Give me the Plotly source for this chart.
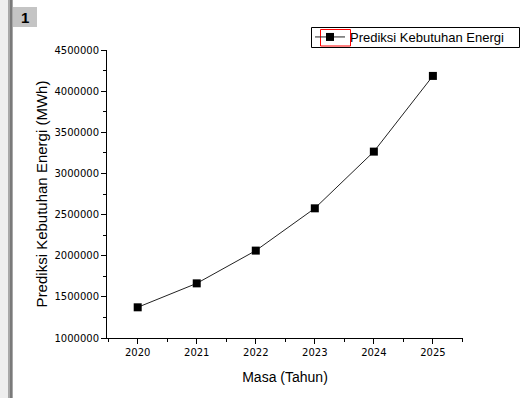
import plotly.graph_objects as go

# Projected annual energy demand
years = [2020, 2021, 2022, 2023, 2024, 2025]
demand_mwh = [1373000, 1664000, 2062000, 2576000, 3265000, 4185000]
series_name = "Prediksi Kebutuhan Energi"

W, H = 531, 398
ML, MR, MT, MB = 107, 68, 50, 60
PW, PH = W - ML - MR, H - MT - MB


def px_x(x):
    return (x - ML) / PW


def px_y(y):
    return (H - MB - y) / PH


fig = go.Figure()
fig.add_trace(go.Scatter(
    x=years, y=demand_mwh, name=series_name,
    mode="lines+markers",
    line=dict(color="#222222", width=1),
    marker=dict(symbol="square", size=8, color="#000000"),
))

tick_font = dict(family="DejaVu Sans", size=10, color="#000000")

fig.update_layout(
    width=W, height=H,
    margin=dict(l=ML, r=MR, t=MT, b=MB, autoexpand=False),
    paper_bgcolor="white", plot_bgcolor="white",
    showlegend=True,
    legend=dict(
        x=px_x(310), y=px_y(37), xanchor="left", yanchor="middle",
        bgcolor="rgba(0,0,0,0)", borderwidth=0,
        font=dict(family="Liberation Sans", size=13, color="#000000"),
        itemwidth=30,
    ),
    xaxis=dict(
        range=[2019.48, 2025.51], tickmode="array", tickvals=years,
        ticktext=[str(y) for y in years],
        showline=True, linecolor="#000000", linewidth=1,
        ticks="outside", ticklen=5, tickcolor="#000000",
        minor=dict(ticks="outside", ticklen=3, dtick=0.5, tick0=2019.5,
                   tickcolor="#000000"),
        showgrid=False, zeroline=False, tickfont=tick_font,
        title=dict(text="Masa (Tahun)", standoff=15,
                   font=dict(family="Liberation Sans", size=14, color="#000000")),
    ),
    yaxis=dict(
        range=[1000000, 4500000], tick0=1000000, dtick=500000, tickformat="d",
        showline=True, linecolor="#000000", linewidth=1,
        ticks="outside", ticklen=5, tickcolor="#000000",
        minor=dict(ticks="outside", ticklen=3, dtick=250000,
                   tickcolor="#000000"),
        showgrid=False, zeroline=False, tickfont=tick_font,
        title=dict(text="Prediksi Kebutuhan Energi (MWh)", standoff=3,
                   font=dict(family="Liberation Sans", size=15, color="#000000")),
    ),
)

# window frame at left edge, the page-number tab and the legend frame
shapes = [
    dict(type="rect", xref="paper", yref="paper", x0=px_x(0), x1=px_x(8),
         y0=px_y(H), y1=px_y(0), fillcolor="#eeeeee", line=dict(width=0)),
    dict(type="rect", xref="paper", yref="paper", x0=px_x(8), x1=px_x(13),
         y0=px_y(H), y1=px_y(0), fillcolor="#a8a8a8", line=dict(width=0)),
    dict(type="rect", xref="paper", yref="paper", x0=px_x(10), x1=px_x(12),
         y0=px_y(H), y1=px_y(0), fillcolor="#7a7a7a", line=dict(width=0)),
    dict(type="rect", xref="paper", yref="paper", x0=px_x(13), x1=px_x(37),
         y0=px_y(27), y1=px_y(7), fillcolor="#c4c4c4", line=dict(width=0)),
    dict(type="rect", xref="paper", yref="paper", x0=px_x(311.5), x1=px_x(519.5),
         y0=px_y(47.5), y1=px_y(27.5), fillcolor="white",
         line=dict(color="#000000", width=1)),
    # highlight frame around the legend symbol
    dict(type="rect", xref="paper", yref="paper", x0=px_x(320.5), x1=px_x(350.5),
         y0=px_y(46), y1=px_y(29.5), fillcolor="rgba(0,0,0,0)",
         line=dict(color="#ff0000", width=1)),
]
fig.update_layout(shapes=shapes)

fig.add_annotation(
    x=px_x(25), y=px_y(17), xref="paper", yref="paper", text="<b>1</b>",
    xanchor="center", yanchor="middle", showarrow=False,
    font=dict(family="Liberation Sans", size=15, color="#000000"),
)

fig.write_html("out.html")
